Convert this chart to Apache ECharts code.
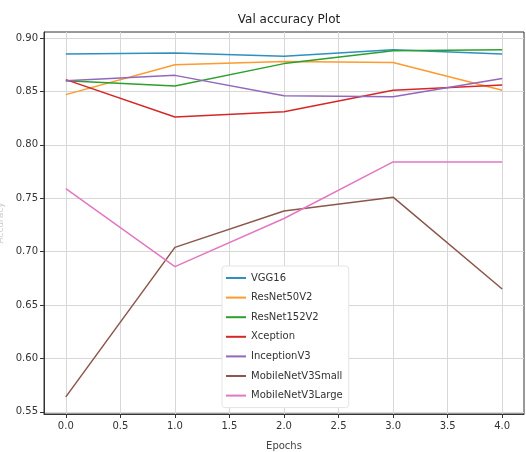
<!DOCTYPE html>
<html><head><meta charset="utf-8">
<script src="https://cdn.jsdelivr.net/npm/echarts@6/dist/echarts.min.js"></script>
<style>html,body{margin:0;padding:0;background:#fff}#c{width:526px;height:452px}</style>
</head><body><div id="c"></div>
<script>
const epochs = [0, 1, 2, 3, 4];
const xTicks = [0, 0.5, 1, 1.5, 2, 2.5, 3, 3.5, 4];
const yTicks = [0.55, 0.60, 0.65, 0.70, 0.75, 0.80, 0.85, 0.90];
const names = ['VGG16','ResNet50V2','ResNet152V2','Xception','InceptionV3','MobileNetV3Small','MobileNetV3Large'];
const vgg16 = [0.885, 0.886, 0.883, 0.889, 0.885];
const resnet50v2 = [0.847, 0.875, 0.878, 0.877, 0.851];
const resnet152v2 = [0.860, 0.855, 0.876, 0.888, 0.889];
const xception = [0.861, 0.826, 0.831, 0.851, 0.856];
const inceptionv3 = [0.860, 0.865, 0.846, 0.845, 0.862];
const mobileSmall = [0.564, 0.704, 0.738, 0.751, 0.665];
const mobileLarge = [0.759, 0.686, 0.731, 0.784, 0.784];
const allSeries = [vgg16, resnet50v2, resnet152v2, xception, inceptionv3, mobileSmall, mobileLarge];
const colors = ['#2f8fc0','#ff9a2e','#2ca02c','#d62728','#9467bd','#8c564b','#e377c2'];

const chart = echarts.init(document.getElementById('c'), null, {renderer:'canvas'});
const axisCommon = {
  axisLine:{show:true, onZero:false, lineStyle:{color:'#333', width:1}},
};
chart.setOption({
  animation:false,
  color: colors,
  title:{text:'Val accuracy Plot', left:284, textAlign:'center', top:9,
    textStyle:{fontFamily:'DejaVu Sans', fontSize:12, fontWeight:'normal', color:'#222'}},
  grid:{left:44, right:2, top:32, bottom:38, show:true, borderColor:'#333', borderWidth:1,
    containLabel:false, outerBoundsMode:'none'},
  legend:{orient:'vertical', left:222, top:266, data:names, icon:'rect', itemWidth:20, itemHeight:2,
    itemGap:7.6, padding:[6,6,6,4], backgroundColor:'#fff', borderColor:'#e4e4e4', borderWidth:1, borderRadius:3,
    textStyle:{fontFamily:'DejaVu Sans', fontSize:10, color:'#333', lineHeight:12}},
  xAxis:Object.assign({}, axisCommon, {type:'value', min:-0.2, max:4.2,
    name:'Epochs', nameLocation:'middle', nameGap:27,
    nameTextStyle:{fontFamily:'DejaVu Sans', fontSize:10, color:'#444'},
    axisTick:{show:true, length:4, lineStyle:{color:'#333'}, customValues:xTicks},
    splitLine:{show:true, lineStyle:{color:'#d8d8d8'}, customValues:xTicks},
    axisLabel:{customValues:xTicks, formatter:v=>v.toFixed(1), fontFamily:'DejaVu Sans', fontSize:10, color:'#333', margin:7}}),
  yAxis:Object.assign({}, axisCommon, {type:'value', min:0.548, max:0.9056,
    name:'Accuracy', nameLocation:'middle', nameGap:33,
    nameTextStyle:{fontFamily:'DejaVu Sans', fontSize:9, color:'#ccc'},
    axisTick:{show:true, length:4, lineStyle:{color:'#333'}, customValues:yTicks},
    splitLine:{show:true, lineStyle:{color:'#d8d8d8'}, customValues:yTicks},
    axisLabel:{customValues:yTicks, formatter:v=>v.toFixed(2), fontFamily:'DejaVu Sans', fontSize:10, color:'#333', margin:6}}),
  series: names.map((n,i)=>({
    name:n, type:'line', showSymbol:false, symbol:'none',
    lineStyle:{width:1.5, color:colors[i]}, itemStyle:{color:colors[i]},
    data: epochs.map((e,j)=>[e, allSeries[i][j]])
  }))
});
</script></body></html>
